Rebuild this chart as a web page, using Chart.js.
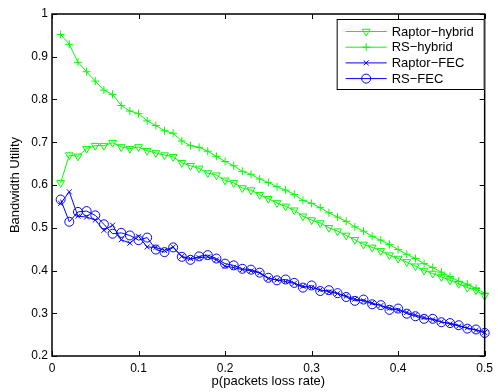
<!DOCTYPE html>
<html>
<head>
<meta charset="utf-8">
<script src="https://cdn.jsdelivr.net/npm/chart.js@4/dist/chart.umd.min.js"></script>
<style>
  body { margin: 0; background: #fff; }
  canvas { display: block; }
</style>
</head>
<body>
<canvas id="myChart" width="498" height="392"></canvas>
<script>
// packet loss rate (x) and the four curves
const lossRate = [
  0.01, 0.02, 0.03, 0.04, 0.05, 0.06, 0.07, 0.08, 0.09, 0.10,
  0.11, 0.12, 0.13, 0.14, 0.15, 0.16, 0.17, 0.18, 0.19, 0.20,
  0.21, 0.22, 0.23, 0.24, 0.25, 0.26, 0.27, 0.28, 0.29, 0.30,
  0.31, 0.32, 0.33, 0.34, 0.35, 0.36, 0.37, 0.38, 0.39, 0.40,
  0.41, 0.42, 0.43, 0.44, 0.45, 0.46, 0.47, 0.48, 0.49, 0.50
];
const raptorHybrid = [
  0.605, 0.670, 0.667, 0.685, 0.692, 0.692, 0.699, 0.689, 0.685, 0.689,
  0.680, 0.675, 0.670, 0.666, 0.652, 0.645, 0.639, 0.628, 0.623, 0.611,
  0.605, 0.593, 0.588, 0.577, 0.568, 0.558, 0.550, 0.541, 0.527, 0.518,
  0.511, 0.500, 0.492, 0.482, 0.472, 0.461, 0.454, 0.446, 0.436, 0.428,
  0.420, 0.410, 0.400, 0.393, 0.385, 0.377, 0.369, 0.360, 0.354, 0.341
];
const rsHybrid = [
  0.952, 0.929, 0.887, 0.865, 0.843, 0.822, 0.812, 0.786, 0.773, 0.767,
  0.750, 0.739, 0.727, 0.721, 0.703, 0.692, 0.688, 0.679, 0.667, 0.655,
  0.645, 0.632, 0.625, 0.614, 0.606, 0.596, 0.588, 0.578, 0.564, 0.557,
  0.547, 0.535, 0.525, 0.515, 0.502, 0.492, 0.480, 0.471, 0.461, 0.449,
  0.438, 0.428, 0.416, 0.407, 0.396, 0.386, 0.375, 0.368, 0.358, 0.347
];
const raptorFec = [
  0.557, 0.584, 0.527, 0.525, 0.518, 0.494, 0.506, 0.472, 0.464, 0.480,
  0.455, 0.454, 0.447, 0.455, 0.433, 0.428, 0.430, 0.432, 0.425, 0.410,
  0.407, 0.402, 0.399, 0.394, 0.381, 0.378, 0.374, 0.370, 0.363, 0.360,
  0.355, 0.350, 0.346, 0.340, 0.333, 0.329, 0.324, 0.318, 0.312, 0.307,
  0.302, 0.296, 0.290, 0.285, 0.280, 0.275, 0.270, 0.266, 0.260, 0.255
];
const rsFec = [
  0.566, 0.514, 0.537, 0.539, 0.529, 0.508, 0.486, 0.488, 0.482, 0.471,
  0.477, 0.449, 0.443, 0.454, 0.432, 0.425, 0.433, 0.436, 0.428, 0.416,
  0.412, 0.404, 0.402, 0.395, 0.383, 0.377, 0.379, 0.371, 0.360, 0.365,
  0.352, 0.354, 0.347, 0.338, 0.329, 0.332, 0.321, 0.319, 0.308, 0.311,
  0.299, 0.293, 0.287, 0.287, 0.279, 0.277, 0.272, 0.264, 0.262, 0.254
];
const seriesNames = ["Raptor\u2212hybrid", "RS\u2212hybrid", "Raptor\u2212FEC", "RS\u2212FEC"];
const xTicks = [0, 0.1, 0.2, 0.3, 0.4, 0.5];
const yTicks = [0.2, 0.3, 0.4, 0.5, 0.6, 0.7, 0.8, 0.9, 1];

const FONT = "'Liberation Sans', Arial, Helvetica, sans-serif";
const green = "#00ff00";
const blue = "#0000ff";

function pts(ys) {
  return ys.map((y, i) => ({ x: lossRate[i], y: y }));
}

function makeSet(label, ys, color, style, radius, rotation) {
  return {
    label: label,
    data: pts(ys),
    borderColor: color,
    backgroundColor: "rgba(0,0,0,0)",
    borderWidth: 1,
    pointStyle: style,
    pointRadius: radius,
    pointRotation: rotation,
    pointBorderColor: color,
    pointBackgroundColor: "rgba(0,0,0,0)",
    pointBorderWidth: 1,
    tension: 0,
    clip: false,
  };
}

// matlab style box, inward ticks and framed legend
const matlabBox = {
  id: "matlabBox",
  afterDraw(chart) {
    const ctx = chart.ctx;
    const a = chart.chartArea;
    const xs = chart.scales.x;
    const ys = chart.scales.y;
    ctx.save();
    ctx.strokeStyle = "#000";
    ctx.lineWidth = 1;
    ctx.beginPath();
    xTicks.forEach(v => {
      const px = Math.round(xs.getPixelForValue(v)) + 0.5;
      ctx.moveTo(px, a.bottom); ctx.lineTo(px, a.bottom - 5);
      ctx.moveTo(px, a.top); ctx.lineTo(px, a.top + 5);
    });
    yTicks.forEach(v => {
      const py = Math.round(ys.getPixelForValue(v)) + 0.5;
      ctx.moveTo(a.left, py); ctx.lineTo(a.left + 5, py);
      ctx.moveTo(a.right, py); ctx.lineTo(a.right - 5, py);
    });
    ctx.stroke();
    ctx.lineWidth = 1.5;
    ctx.strokeRect(a.left, a.top, a.right - a.left, a.bottom - a.top);

    // legend
    const lx = a.right - 148, ly = a.top + 5, lw = 148, lh = 71;
    ctx.fillStyle = "#fff";
    ctx.fillRect(lx, ly, lw, lh);
    ctx.lineWidth = 1;
    ctx.strokeRect(lx + 0.5, ly + 0.5, lw - 1, lh - 1);
    ctx.font = "13px " + FONT;
    ctx.textBaseline = "middle";
    chart.data.datasets.forEach((ds, i) => {
      const yy = ly + 12.5 + i * 15.7;
      ctx.strokeStyle = ds.borderColor;
      ctx.lineWidth = 1;
      ctx.beginPath();
      ctx.moveTo(lx + 9, yy); ctx.lineTo(lx + 50, yy);
      ctx.stroke();
      ctx.fillStyle = "rgba(0,0,0,0)";
      Chart.helpers.drawPoint(ctx, {
        pointStyle: ds.pointStyle,
        radius: ds.pointRadius,
        rotation: ds.pointRotation,
        borderWidth: 1,
      }, lx + 29.5, yy);
      ctx.fillStyle = "#000";
      ctx.fillText(ds.label, lx + 55, yy + 0.5);
    });
    ctx.restore();
  }
};

const tickText = v => String(+v.toFixed(1));

new Chart("myChart", {
  type: "line",
  data: {
    datasets: [
      makeSet(seriesNames[0], raptorHybrid, green, "triangle", 4.5, 180),
      makeSet(seriesNames[1], rsHybrid, green, "cross", 4, 0),
      makeSet(seriesNames[2], raptorFec, blue, "crossRot", 3.5, 0),
      makeSet(seriesNames[3], rsFec, blue, "circle", 4.5, 0),
    ],
  },
  options: {
    responsive: false,
    animation: false,
    layout: { padding: { top: 14, right: 10, left: 0, bottom: 0 } },
    plugins: {
      legend: { display: false },
      tooltip: { enabled: false },
    },
    scales: {
      x: {
        type: "linear",
        min: 0,
        max: 0.5,
        afterFit: s => { s.height = 36; },
        afterBuildTicks: s => { s.ticks = xTicks.map(v => ({ value: v })); },
        grid: { display: false, drawTicks: false },
        border: { display: false },
        ticks: { color: "#000", padding: 5, maxRotation: 0, callback: tickText, font: { family: FONT, size: 12 } },
        title: {
          display: true,
          text: "p(packets loss rate)",
          color: "#000",
          padding: { top: 0, bottom: 3 },
          font: { family: FONT, size: 13 },
        },
      },
      y: {
        min: 0.2,
        max: 1,
        afterFit: s => { s.width = 52; },
        afterBuildTicks: s => { s.ticks = yTicks.map(v => ({ value: v })); },
        grid: { display: false, drawTicks: false },
        border: { display: false },
        ticks: { color: "#000", padding: 4, callback: tickText, font: { family: FONT, size: 12 } },
        title: {
          display: true,
          text: "Bandwidth Utility",
          color: "#000",
          padding: { top: 8, bottom: 0 },
          font: { family: FONT, size: 13 },
        },
      },
    },
  },
  plugins: [matlabBox],
});
</script>
</body>
</html>
